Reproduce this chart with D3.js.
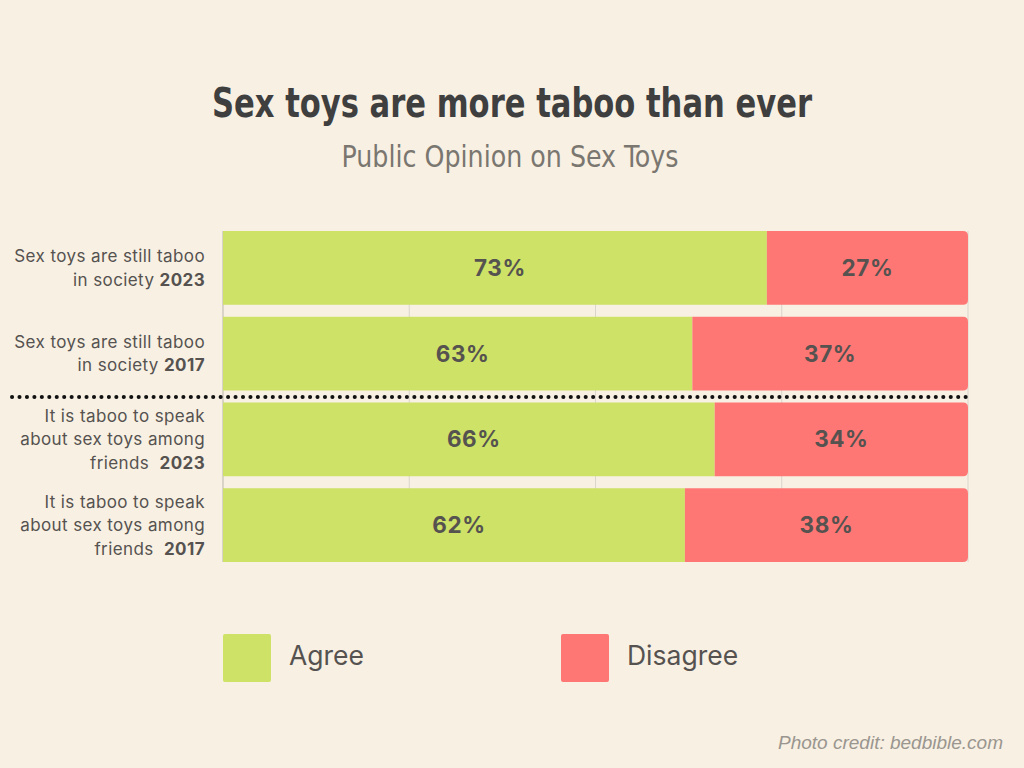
<!DOCTYPE html>
<html><head><meta charset="utf-8">
<script src="https://cdn.jsdelivr.net/npm/d3@7"></script>
<style>html,body{margin:0;padding:0;background:#f8f0e3;}svg{display:block;}</style>
</head><body>
<div id="chart"></div>
<script>
const categories = [
  ["Sex toys are still taboo", "in society |2023"],
  ["Sex toys are still taboo", "in society |2017"],
  ["It is taboo to speak", "about sex toys among", "friends  |2023"],
  ["It is taboo to speak", "about sex toys among", "friends  |2017"]
];
const agree = [73, 63, 66, 62];
const disagree = [27, 37, 34, 38];
const seriesNames = ["Agree", "Disagree"];
const colors = ["#cde266", "#ff7774"];
const xTicks = [0, 25, 50, 75, 100];

const W = 1024, H = 768;
const svg = d3.select("#chart").append("svg").attr("width", W).attr("height", H);
svg.append("rect").attr("width", W).attr("height", H).attr("fill", "#f8f0e3");

const x = d3.scaleLinear().domain([0, 100]).range([223, 968]);
const y = d3.scaleBand().domain(d3.range(categories.length)).range([231, 562]).paddingInner(0.14).paddingOuter(0);

// gridlines
svg.append("g").selectAll("line").data(xTicks).join("line")
  .attr("x1", d => x(d)).attr("x2", d => x(d))
  .attr("y1", 231).attr("y2", 562)
  .attr("stroke", d => d === 0 ? "#b9b5ae" : "#d9d4cc").attr("stroke-width", 1);

const data = categories.map((c, i) => ({i, a: agree[i], d: disagree[i]}));

function rightRounded(x0, y0, w, h, r) {
  return `M${x0},${y0}H${x0 + w - r}Q${x0 + w},${y0} ${x0 + w},${y0 + r}V${y0 + h - r}Q${x0 + w},${y0 + h} ${x0 + w - r},${y0 + h}H${x0}Z`;
}

const rows = svg.append("g").selectAll("g").data(data).join("g");
rows.append("rect")
  .attr("x", x(0)).attr("y", d => y(d.i))
  .attr("width", d => x(d.a) - x(0)).attr("height", y.bandwidth())
  .attr("fill", colors[0]);
rows.append("path")
  .attr("d", d => rightRounded(x(d.a), y(d.i), x(d.a + d.d) - x(d.a), y.bandwidth(), 5))
  .attr("fill", colors[1]);

const valFont = "Inter, 'Noto Sans', sans-serif";
rows.append("text")
  .attr("x", d => (x(0) + x(d.a)) / 2 + 5).attr("y", d => y(d.i) + y.bandwidth() / 2 + 8)
  .attr("text-anchor", "middle").attr("font-family", valFont).attr("font-weight", 700)
  .attr("font-size", 22.5).attr("letter-spacing", 0.6).attr("fill", "#555250").text(d => d.a + "%");
rows.append("text")
  .attr("x", d => (x(d.a) + x(100)) / 2).attr("y", d => y(d.i) + y.bandwidth() / 2 + 8)
  .attr("text-anchor", "middle").attr("font-family", valFont).attr("font-weight", 700)
  .attr("font-size", 22.5).attr("letter-spacing", 0.6).attr("fill", "#555250").text(d => d.d + "%");

// category labels
const lh = 23.5;
categories.forEach((lines, i) => {
  const cy = y(i) + y.bandwidth() / 2;
  const start = cy - (lines.length - 1) * lh / 2 + 6;
  lines.forEach((ln, j) => {
    const t = svg.append("text").attr("x", 205).attr("y", start + j * lh)
      .attr("text-anchor", "end").attr("font-family", valFont).attr("font-size", 17)
      .attr("letter-spacing", 0.4)
      .attr("fill", "#555250").attr("xml:space", "preserve").style("white-space", "pre");
    const parts = ln.split("|");
    t.append("tspan").text(parts[0]);
    if (parts.length > 1) t.append("tspan").attr("font-weight", 700).text(parts[1]);
  });
});

// dotted separator
svg.append("line").attr("x1", 12).attr("x2", 966).attr("y1", 397).attr("y2", 397)
  .attr("stroke", "#111").attr("stroke-width", 4).attr("stroke-linecap", "round")
  .attr("stroke-dasharray", "0.1 7.35");

// title
svg.append("text").attr("x", 512).attr("y", 117).attr("text-anchor", "middle")
  .attr("font-family", "'DejaVu Sans Condensed', 'Liberation Sans Narrow', sans-serif")
  .style("font-stretch", "condensed").attr("font-weight", 700).attr("font-size", 40)
  .attr("fill", "#3f3f3f").attr("textLength", 600).attr("lengthAdjust", "spacingAndGlyphs")
  .text("Sex toys are more taboo than ever");
svg.append("text").attr("x", 510).attr("y", 167).attr("text-anchor", "middle")
  .attr("font-family", "'DejaVu Sans Condensed', 'Liberation Sans Narrow', sans-serif")
  .style("font-stretch", "condensed").attr("font-weight", 300).attr("font-size", 30)
  .attr("fill", "#7a7670").attr("textLength", 337).attr("lengthAdjust", "spacingAndGlyphs")
  .text("Public Opinion on Sex Toys");

// legend
const legX = [223, 561];
const leg = svg.append("g").selectAll("g").data(seriesNames).join("g");
leg.append("rect").attr("x", (d, i) => legX[i]).attr("y", 634).attr("width", 48).attr("height", 48)
  .attr("rx", 2).attr("fill", (d, i) => colors[i]);
leg.append("text").attr("x", (d, i) => legX[i] + 66).attr("y", 665)
  .attr("font-family", valFont).attr("font-size", 26.5).attr("fill", "#555250").text(d => d);

// credit
svg.append("text").attr("x", 1003).attr("y", 749).attr("text-anchor", "end")
  .attr("font-family", "'Liberation Sans', Arial, sans-serif").attr("font-style", "italic")
  .attr("font-size", 19).attr("fill", "#9a968f").text("Photo credit: bedbible.com");
</script>
</body></html>
